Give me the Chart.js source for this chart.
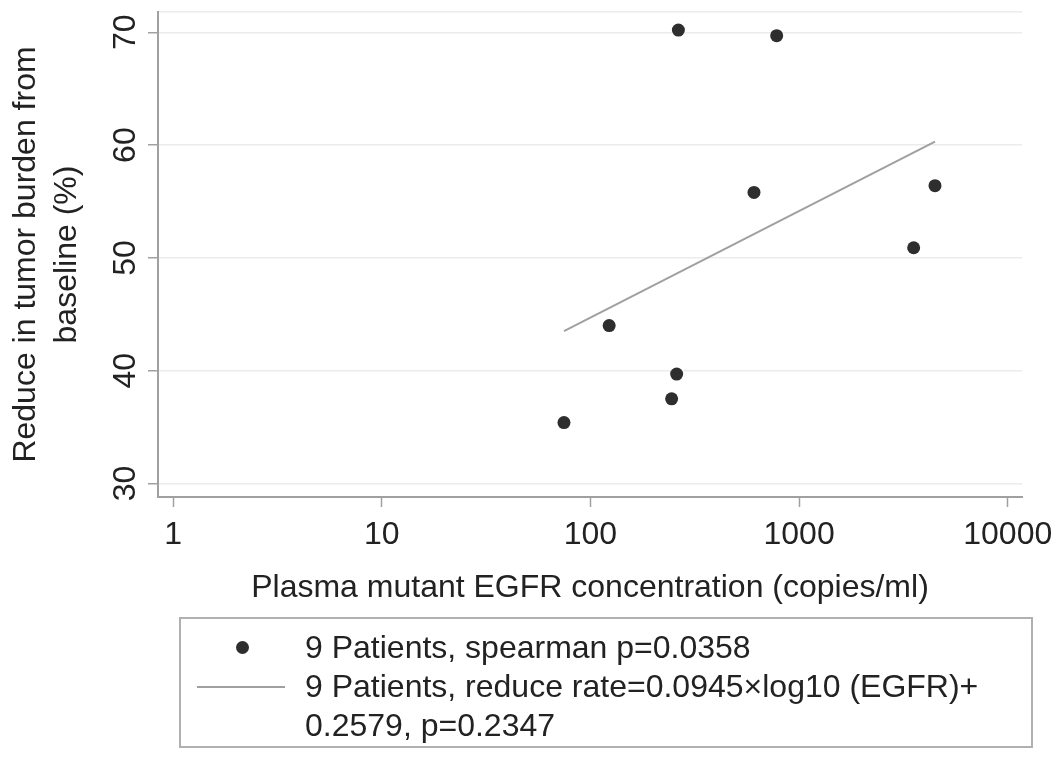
<!DOCTYPE html>
<html>
<head>
<meta charset="utf-8">
<script src="https://cdn.jsdelivr.net/npm/chart.js@4.4.1/dist/chart.umd.min.js"></script>
<style>
  html, body { margin: 0; padding: 0; background: #fff; }
  #wrap { position: relative; width: 1063px; height: 762px; font-family: "Liberation Sans", Arial, sans-serif; }
  #legendBox {
    position: absolute; left: 179px; top: 617px; width: 854px; height: 131px;
    box-sizing: border-box; border: 2px solid #b0b0b0; color: #222;
    font-size: 32px; line-height: 39px; padding-top: 9px;
  }
  .row { position: relative; padding-left: 124px; white-space: pre-line; }
  .dot { position: absolute; left: 55px; top: 13px; width: 13px; height: 13px; border-radius: 50%; background: #2e2e2e; }
  .seg { position: absolute; left: 16px; top: 19px; width: 88px; height: 2px; background: #a0a0a0; }
</style>
</head>
<body>
<div id="wrap">
  <canvas id="grafico" width="1063" height="762"></canvas>
  <div id="legendBox"></div>
</div>
<script>
// valores
const egfrCopies = [74.7, 123, 245, 259, 264, 608, 781, 3540, 4480];
const reduccion = [35.4, 44.0, 37.5, 39.7, 70.2, 55.8, 69.7, 50.9, 56.4];
const ajusteX = [74.7, 4480];
const ajusteY = [43.5, 60.3];
const xTicks = [1, 10, 100, 1000, 10000];
const yTicks = [30, 40, 50, 60, 70];
const legendLabels = [
  "9 Patients, spearman p=0.0358",
  "9 Patients, reduce rate=0.0945\u00d7log10 (EGFR)+\n0.2579, p=0.2347"
];

const fuente = "'Liberation Sans', Arial, sans-serif";
const gris = "#a0a0a0";

new Chart(document.getElementById("grafico"), {
  type: "scatter",
  data: {
    datasets: [{
      label: legendLabels[0],
      data: egfrCopies.map((x, i) => ({ x: x, y: reduccion[i] })),
      backgroundColor: "#2e2e2e",
      borderWidth: 0,
      pointRadius: 6.5
    }, {
      label: legendLabels[1],
      type: "line",
      data: ajusteX.map((x, i) => ({ x: x, y: ajusteY[i] })),
      borderColor: gris,
      borderWidth: 2,
      pointRadius: 0,
      fill: false
    }]
  },
  options: {
    responsive: false,
    animation: false,
    layout: { padding: { top: 12, right: 41, bottom: 155, left: 0 } },
    plugins: { legend: { display: false }, tooltip: { enabled: false } },
    scales: {
      x: {
        type: "logarithmic",
        min: 0.847,
        max: 11700,
        afterBuildTicks: s => { s.ticks = xTicks.map(v => ({ value: v })); },
        afterFit: s => { s.height = 110; s.paddingLeft = 0; s.paddingRight = 0; },
        border: { color: gris, width: 2 },
        grid: { drawOnChartArea: false, drawTicks: true, tickLength: 10, tickColor: gris, tickWidth: 1.5 },
        ticks: {
          color: "#222", padding: 9,
          font: { family: fuente, size: 32 },
          callback: v => String(v)
        },
        title: {
          display: true,
          text: "Plasma mutant EGFR concentration (copies/ml)",
          color: "#222",
          font: { family: fuente, size: 32 },
          padding: { top: 0, bottom: 0 }
        }
      },
      y: {
        min: 28.8,
        max: 71.8,
        afterBuildTicks: s => {
          s.ticks = yTicks.map(v => ({ value: v })).concat([{ value: s.max }]);
        },
        afterFit: s => { s.width = 158; s.paddingTop = 0; s.paddingBottom = 0; },
        border: { color: gris, width: 2 },
        grid: {
          color: "#ececec", lineWidth: 1.5, tickLength: 10, tickWidth: 1.5,
          tickColor: c => (c.tick && c.tick.value > 70 ? "rgba(0,0,0,0)" : gris)
        },
        ticks: {
          color: "#222", padding: 4,
          minRotation: 90, maxRotation: 90, crossAlign: "center",
          font: { family: fuente, size: 32 },
          callback: v => (yTicks.includes(v) ? String(v) : "")
        },
        title: {
          display: true,
          text: ["Reduce in tumor burden from", "baseline (%)"],
          color: "#222",
          font: { family: fuente, size: 32, lineHeight: 1.28 },
          padding: { top: 6, bottom: 0 }
        }
      }
    }
  }
});

// leyenda propia (la segunda etiqueta ocupa dos renglones)
const caja = document.getElementById("legendBox");
legendLabels.forEach((txt, i) => {
  const fila = document.createElement("div");
  fila.className = "row";
  const marca = document.createElement("span");
  marca.className = i === 0 ? "dot" : "seg";
  fila.appendChild(marca);
  fila.appendChild(document.createTextNode(txt));
  caja.appendChild(fila);
});
</script>
</body>
</html>
